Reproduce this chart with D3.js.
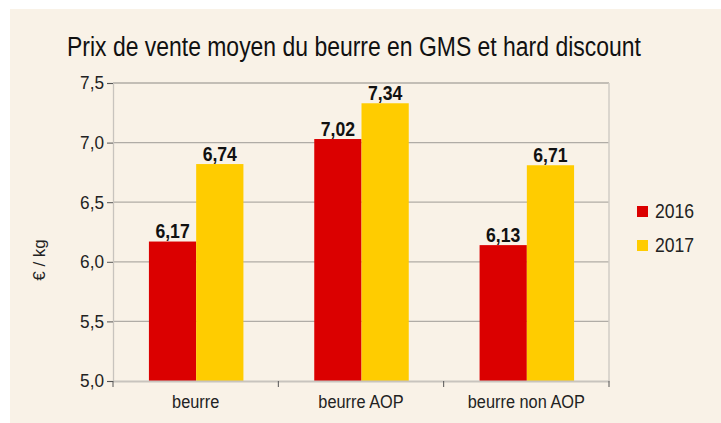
<!DOCTYPE html>
<html><head><meta charset="utf-8">
<script src="https://cdn.jsdelivr.net/npm/d3@7"></script>
<style>
html,body{margin:0;padding:0;background:#fff;}
svg{display:block;}
text{font-family:"Liberation Sans Narrow","Arial Narrow","Liberation Sans",Arial,sans-serif;}
</style></head>
<body><svg id="c" width="721" height="423"></svg>
<script>
const categories = ["beurre", "beurre AOP", "beurre non AOP"];
const series = ["2016", "2017"];
const values2016 = [6.17, 7.03, 6.14];
const values2017 = [6.82, 7.33, 6.81];
const labels2016 = ["6,17", "7,02", "6,13"];
const labels2017 = ["6,74", "7,34", "6,71"];
const yTicks = [5.0, 5.5, 6.0, 6.5, 7.0, 7.5];
const colors = ["#db0000", "#ffcc00"];

const FONT = '"Liberation Sans Narrow","Arial Narrow","Liberation Sans",Arial,sans-serif';
function condense(sel, k) {
  sel.each(function() {
    const t = d3.select(this);
    const x = +t.attr("x") || 0;
    const y = +t.attr("y") || 0;
    const prev = t.attr("transform") || "";
    t.attr("transform", `${prev} translate(${x},${y}) scale(${k},1) translate(${-x},${-y})`);
  });
}

const svg = d3.select("#c");
svg.append("rect").attr("x",10).attr("y",9).attr("width",711).attr("height",414).attr("fill","#f9f2e7");

const m = {left:113, right:609, top:83, bottom:381};
const x = d3.scaleBand().domain(categories).range([m.left, m.right]).paddingInner(0).paddingOuter(0);
const y = d3.scaleLinear().domain([5, 7.5]).range([m.bottom, m.top]);
const groupW = 94.5;
const xs = d3.scaleBand().domain(series).range([0, groupW]).padding(0);

// title
const title = svg.append("text").attr("x",67).attr("y",56).attr("font-size",27).attr("fill","#111")
  .text("Prix de vente moyen du beurre en GMS et hard discount");
condense(title, 0.85);

// gridlines
const fmt = d => d3.format(".1f")(d).replace(".", ",");
svg.append("g").selectAll("line").data(yTicks.slice(1)).join("line")
  .attr("x1", m.left).attr("x2", m.right).attr("y1", d=>y(d)).attr("y2", d=>y(d))
  .attr("stroke","#b0aca6").attr("stroke-width",1.3);

// y axis
const ya = svg.append("g").attr("transform",`translate(${m.left},0)`)
  .call(d3.axisLeft(y).tickValues(yTicks).tickFormat(fmt).tickSize(6).tickPadding(3));
ya.select(".domain").attr("stroke","#c8c4be").attr("stroke-width",1.3);
ya.selectAll(".tick line").attr("stroke","#555");
ya.selectAll(".tick text").attr("font-size",18.5).attr("fill","#222").attr("font-family",FONT);
condense(ya.selectAll(".tick text"), 0.93);

// right border
svg.append("line").attr("x1",m.right).attr("x2",m.right).attr("y1",m.top).attr("y2",m.bottom)
  .attr("stroke","#d0ccc6").attr("stroke-width",1.5);

// bars
const data = categories.map((c,i)=>({c, vals:[values2016[i], values2017[i]], labs:[labels2016[i], labels2017[i]]}));
const g = svg.append("g").selectAll("g").data(data).join("g")
  .attr("transform", d=>`translate(${x(d.c)+x.bandwidth()/2-groupW/2+0.5},0)`);
g.selectAll("rect").data(d=>d.vals.map((v,j)=>({v, s:series[j], j}))).join("rect")
  .attr("x", d=>xs(d.s)).attr("width", xs.bandwidth())
  .attr("y", d=>y(d.v)).attr("height", d=>y(5)-y(d.v)).attr("fill", d=>colors[d.j]);
const vl = g.selectAll("text").data(d=>d.vals.map((v,j)=>({v, s:series[j], lab:d.labs[j]}))).join("text")
  .attr("x", d=>xs(d.s)+xs.bandwidth()/2).attr("y", d=>y(d.v)-3.5)
  .attr("text-anchor","middle").attr("font-size",20.5).attr("font-weight","bold").attr("fill","#111")
  .text(d=>d.lab);
condense(vl, 0.86);

// x axis
const xa = svg.append("g").attr("transform",`translate(0,${m.bottom})`)
  .call(d3.axisBottom(x).tickSize(0).tickPadding(14));
xa.select(".domain").attr("stroke","#c8c4be").attr("stroke-width",2);
xa.selectAll(".tick text").attr("font-size",19).attr("fill","#222").attr("font-family",FONT);
condense(xa.selectAll(".tick text"), 0.86);
const bounds = [m.left, ...categories.map(c=>x(c)+x.bandwidth())];
svg.append("g").selectAll("line").data(bounds).join("line")
  .attr("x1", d=>d).attr("x2", d=>d).attr("y1", m.bottom).attr("y2", m.bottom+6)
  .attr("stroke","#555").attr("stroke-width",1);

// y label
svg.append("text").attr("transform","translate(45,260) rotate(-90)").attr("text-anchor","middle")
  .attr("font-size",17).attr("fill","#222").text("€ / kg");

// legend
const lg = svg.append("g").selectAll("g").data(series).join("g")
  .attr("transform",(d,i)=>`translate(637,${206+i*34})`);
lg.append("rect").attr("width",11).attr("height",11).attr("fill",(d,i)=>colors[i]);
const lt = lg.append("text").attr("x",18).attr("y",12.3).attr("font-size",20).attr("fill","#222").text(d=>d);
condense(lt, 0.88);
</script></body></html>
